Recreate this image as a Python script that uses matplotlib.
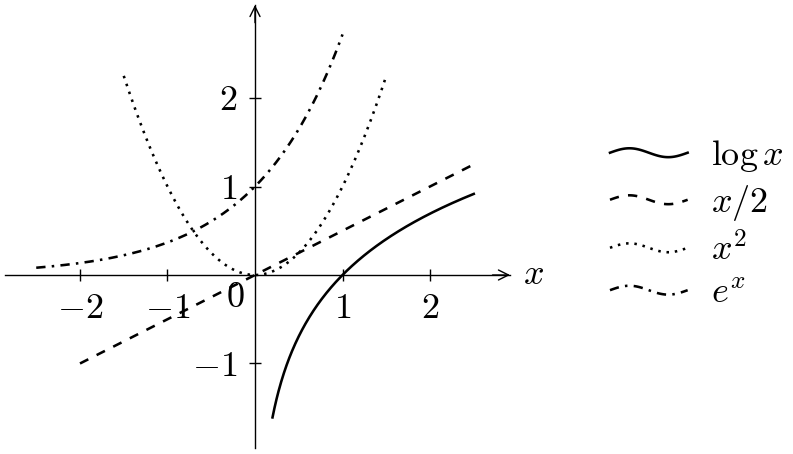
import numpy as np
import matplotlib
matplotlib.use("Agg")
import matplotlib.pyplot as plt
from matplotlib.lines import Line2D
from matplotlib.legend_handler import HandlerBase

# --- Data: the four curves and their x ranges ---
labels = [r"$\log x$", r"$x/2$", r"$x^2$", r"$e^x$"]
domains = [(0.2, 2.5), (-2.0, 2.5), (-1.5, 1.5), (-2.5, 1.0)]
funcs = [np.log, lambda x: x / 2, np.square, np.exp]
styles = [(None, None), (0, (6.7, 6.7)), (0, (1.8, 4.2)), (0, (6.7, 4.5, 1.8, 4.5))]

xticks = [-2, -1, 1, 2]
yticks = [-1, 1, 2]
xlim = (-2.857, 2.914)
ylim = (-1.955, 3.051)

plt.rcParams['font.family'] = 'serif'
plt.rcParams['font.serif'] = ['cmr10', 'DejaVu Serif']
plt.rcParams['mathtext.fontset'] = 'cm'
plt.rcParams['lines.scale_dashes'] = False

FS = 26


class WavyHandler(HandlerBase):
    # legend sample drawn as one sine period, like pgfplots
    def create_artists(self, legend, orig_handle, xdescent, ydescent,
                       width, height, fontsize, trans):
        t = np.linspace(0, 1, 60)
        x = -xdescent + width * t
        y = -ydescent + height / 2 + 3.2 * np.sin(2 * np.pi * t)
        line = Line2D(x, y)
        self.update_prop(line, orig_handle, legend)
        line.set_transform(trans)
        return [line]


fig = plt.figure(figsize=(7.93, 4.54), dpi=100)
ax = fig.add_axes([5 / 793, 6 / 454, 505 / 793, 443 / 454])

handles = []
for (lo, hi), f, ls, lab in zip(domains, funcs, styles, labels):
    xs = np.linspace(lo, hi, 300)
    line, = ax.plot(xs, f(xs), color='black', lw=1.85, label=lab)
    if ls[1] is not None:
        line.set_linestyle(ls)
    handles.append(line)

ax.set_xlim(*xlim)
ax.set_ylim(*ylim)

# middle axis lines
for side in ['top', 'right']:
    ax.spines[side].set_visible(False)
ax.spines['left'].set_position(('data', 0))
ax.spines['bottom'].set_position(('data', 0))
for side in ['left', 'bottom']:
    ax.spines[side].set_linewidth(1.0)

ax.annotate('', xy=(xlim[1], 0), xytext=(xlim[1] - 0.2, 0),
            arrowprops=dict(arrowstyle='->', lw=1.0, color='black',
                            shrinkA=0, shrinkB=0, mutation_scale=18))
ax.annotate('', xy=(0, ylim[1]), xytext=(0, ylim[1] - 0.2),
            arrowprops=dict(arrowstyle='->', lw=1.0, color='black',
                            shrinkA=0, shrinkB=0, mutation_scale=18))

ax.set_xticks(xticks)
ax.set_xticklabels([f"${v}$" for v in xticks])
ax.set_yticks(yticks)
ax.set_yticklabels([f"${v}$" for v in yticks])
ax.tick_params(direction='inout', length=9, width=1.0, labelsize=FS)
ax.tick_params(axis='x', pad=9)
ax.tick_params(axis='y', pad=8)

ax.annotate(r"$0$", xy=(0, 0), xytext=(-14, -17), textcoords='offset points',
            ha='center', va='center', fontsize=FS)
ax.annotate(r"$x$", xy=(xlim[1], 0), xytext=(17, 0), textcoords='offset points',
            ha='center', va='center', fontsize=FS, annotation_clip=False)

fig.legend(handles=handles, labels=labels, handler_map={Line2D: WavyHandler()},
           loc='center left', bbox_to_anchor=(610 / 793, 0.5066),
           frameon=False, fontsize=FS, handlelength=2.15, handletextpad=0.65,
           handleheight=0.8, labelspacing=0.25, borderpad=0, borderaxespad=0)

fig.savefig('out.png', dpi=100)
